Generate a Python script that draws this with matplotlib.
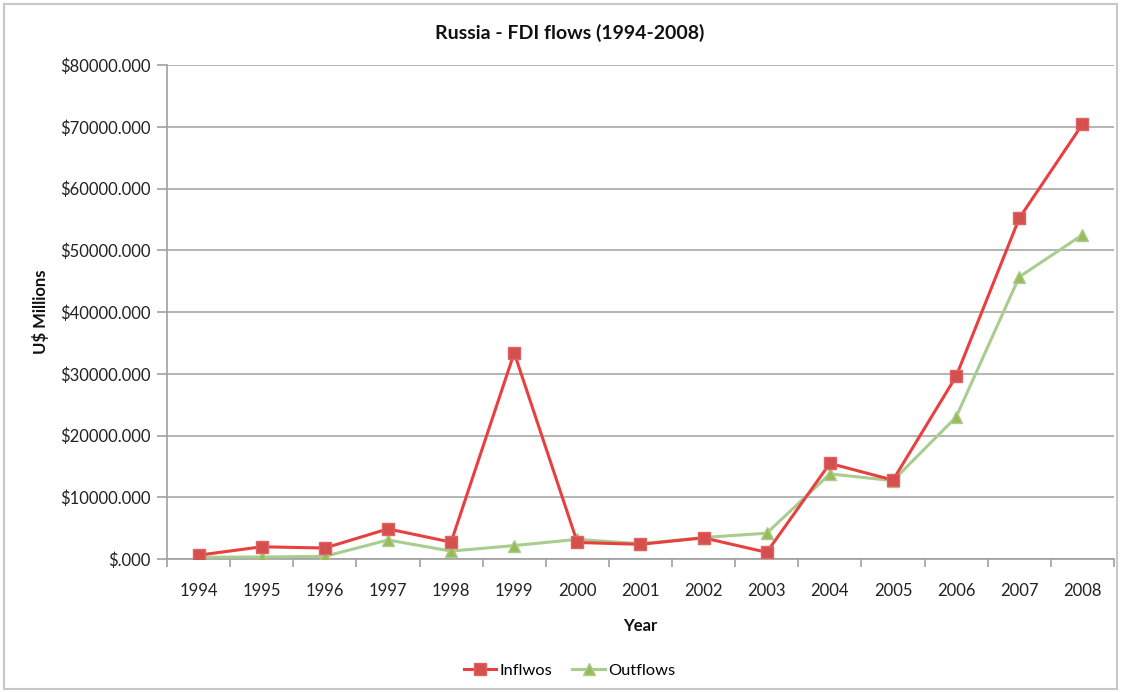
import numpy as np
import matplotlib.pyplot as plt
from matplotlib.patches import Rectangle

plt.rcParams['font.family'] = ['Lato', 'DejaVu Sans']

years = ['1994', '1995', '1996', '1997', '1998', '1999', '2000', '2001',
         '2002', '2003', '2004', '2005', '2006', '2007', '2008']
inflows = [640, 2000, 1800, 4900, 2750, 33400, 2700, 2400,
           3450, 1100, 15500, 12800, 29600, 55200, 70400]
outflows = [300, 350, 450, 3100, 1300, 2200, 3200, 2500,
            3500, 4200, 13800, 12700, 23000, 45700, 52500]
yticks = np.arange(0, 80001, 10000)

fig = plt.figure(figsize=(11.21, 6.92), dpi=100)
ax = fig.add_axes([0.149, 0.192, 0.8447, 0.714])

x = np.arange(len(years))
ax.plot(x, inflows, color='#e8403f', lw=2.2, marker='s', ms=9,
        mfc='#d4504e', mec='#e26262', mew=1, label='Inflwos', zorder=4)
ax.plot(x, outflows, color='#a9cc8f', lw=2.2, marker='^', ms=9,
        mfc='#9bbb59', mec='#a9cc8f', mew=1, label='Outflows', zorder=3)

ax.set_xlim(-0.5, len(years) - 0.5)
ax.set_ylim(0, 80000)
ax.set_yticks(yticks)
ax.set_yticklabels(['$%d.000' % v if v else '$.000' for v in yticks])
ax.set_xticks(x)
ax.set_xticklabels(years)
ax.set_xticks(np.arange(-0.5, len(years)), minor=True)
ax.tick_params(axis='x', which='major', length=0, pad=17, labelsize=12)
ax.tick_params(axis='x', which='minor', length=6, color='#a0a0a0', width=1.2)
ax.tick_params(axis='y', length=7, color='#a0a0a0', width=1.2, labelsize=12, pad=5)
for lbl in ax.get_yticklabels() + ax.get_xticklabels():
    lbl.set_color('#222222')

ax.grid(axis='y', color='#a8a8a8', lw=1.2)
ax.set_axisbelow(True)
for s in ['top', 'right']:
    ax.spines[s].set_visible(False)
for s in ['left', 'bottom']:
    ax.spines[s].set_color('#a0a0a0')
    ax.spines[s].set_linewidth(1.2)

fig.text(0.508, 0.952, 'Russia - FDI flows (1994-2008)', ha='center', va='center',
         fontsize=14, fontweight='bold', color='#111111')
fig.text(0.036, 0.55, 'U$ Millions', ha='center', va='center', rotation=90,
         fontsize=12, fontweight='bold', color='#111111')
fig.text(0.571, 0.095, 'Year', ha='center', va='center',
         fontsize=12, fontweight='bold', color='#111111')

fig.legend(loc='center', bbox_to_anchor=(0.508, 0.031), ncol=2, frameon=False,
           fontsize=11.8, handlelength=2.0, columnspacing=1.2, handletextpad=0.2)

fig.patches.append(Rectangle((0.004, 0.004), 0.992, 0.99, transform=fig.transFigure,
                             fill=False, ec='#c8c8c8', lw=1.5))

fig.savefig('out.png', dpi=100)
